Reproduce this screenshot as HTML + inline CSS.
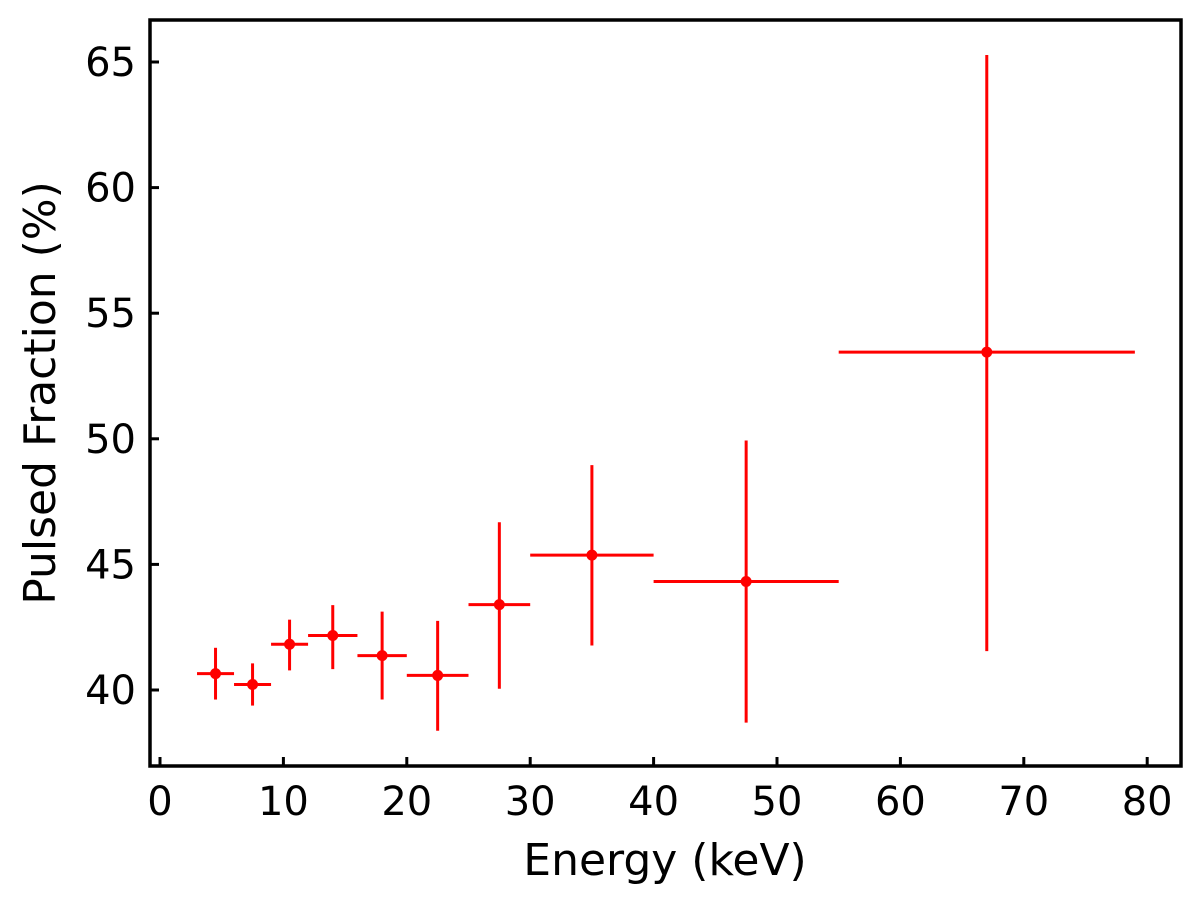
<!DOCTYPE html>
<html><head><meta charset="utf-8"><style>
html,body{margin:0;padding:0;background:#fff;}
svg{display:block;font-family:"DejaVu Sans","Liberation Sans",sans-serif;}
</style></head><body>
<svg id="chart" width="1200" height="900" viewBox="0 0 1200 900">
<g id="marks"></g>
<g id="axes"></g>
<rect x="150" y="20" width="1031" height="746" fill="none" stroke="#000" stroke-width="3.5"/>
<text x="665" y="875" font-size="44" text-anchor="middle">Energy (keV)</text>
<text transform="translate(55,393) rotate(-90)" font-size="44" text-anchor="middle">Pulsed Fraction (%)</text>
</svg>
<script>
const energyCenter=[4.5,7.5,10.5,14,18,22.5,27.5,35,47.5,67];
const energyLow=[3,6,9,12,16,20,25,30,40,55];
const energyHigh=[6,9,12,16,20,25,30,40,55,79];
const pulsedFraction=[40.65,40.22,41.82,42.17,41.37,40.58,43.4,45.37,44.32,53.45];
const pfLow=[39.62,39.38,40.78,40.83,39.62,38.38,40.05,41.77,38.7,41.55];
const pfHigh=[41.68,41.06,42.8,43.38,43.12,42.75,46.68,48.95,49.93,65.28];
const xTicks=[0,10,20,30,40,50,60,70,80];
const yTicks=[40,45,50,55,60,65];
const NS="http://www.w3.org/2000/svg";
const X=v=>160+(v-0)*12.34;
const Y=v=>690-(v-40)*25.12;
const marks=document.getElementById('marks'),axes=document.getElementById('axes');
function mk(tag,attrs,parent){const e=document.createElementNS(NS,tag);for(const k in attrs)e.setAttribute(k,attrs[k]);parent.appendChild(e);return e;}
energyCenter.forEach((c,i)=>{
  const h=mk('line',{x1:X(energyLow[i]),x2:X(energyHigh[i]),y1:Y(pulsedFraction[i]),y2:Y(pulsedFraction[i]),stroke:'#ff0000','stroke-width':3},marks);
  
  
  const v=mk('line',{x1:X(c),x2:X(c),y1:Y(pfLow[i]),y2:Y(pfHigh[i]),stroke:'#ff0000','stroke-width':3},marks);
  
  
  const p=mk('circle',{cx:X(c),cy:Y(pulsedFraction[i]),r:5.5,fill:'#ff0000'},marks);
  
  
});
xTicks.forEach(t=>{
  const l=mk('line',{x1:X(t),x2:X(t),y1:766,y2:757,stroke:'#000','stroke-width':3},axes);
  
  
  const tx=mk('text',{x:X(t),y:815,'font-size':40,'text-anchor':'middle'},axes);
  tx.textContent=t;
  
  
});
yTicks.forEach(t=>{
  const l=mk('line',{x1:150,x2:159,y1:Y(t),y2:Y(t),stroke:'#000','stroke-width':3},axes);
  
  
  const tx=mk('text',{x:136,y:Y(t)+14,'font-size':40,'text-anchor':'end'},axes);
  tx.textContent=t;
  
  
});
</script>
</body></html>
